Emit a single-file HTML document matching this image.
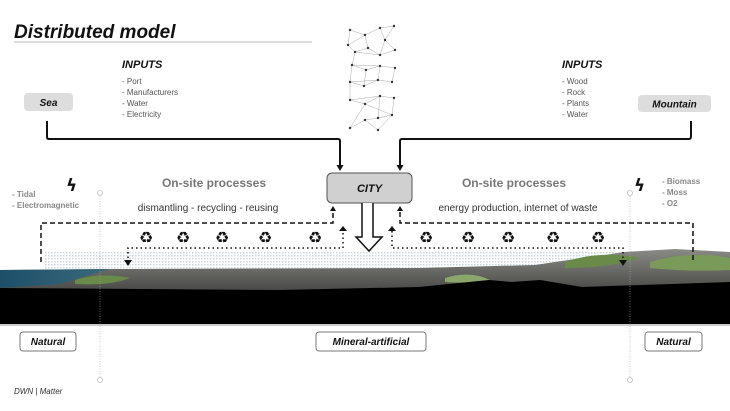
<!DOCTYPE html>
<html><head><meta charset="utf-8"><style>
html,body{margin:0;padding:0;background:#fff;}
svg{display:block;font-family:"Liberation Sans",sans-serif;}
</style></head><body>
<svg width="730" height="411" viewBox="0 0 730 411" xmlns="http://www.w3.org/2000/svg">
<defs>
<pattern id="dots" width="3" height="3" patternUnits="userSpaceOnUse"><rect width="1.5" height="1.5" fill="#c9d6dc"/></pattern>
<linearGradient id="sea" x1="0" x2="1"><stop offset="0" stop-color="#1d4f6a"/><stop offset="1" stop-color="#3a6a7a"/></linearGradient>
<linearGradient id="gnd" x1="0" y1="0" x2="0" y2="1"><stop offset="0" stop-color="#8a8a86"/><stop offset="1" stop-color="#4a4a48"/></linearGradient>
</defs>
<text x="14" y="38" font-size="19" font-weight="bold" font-style="italic" fill="#111">Distributed model</text>
<line x1="14" y1="42" x2="312" y2="42" stroke="#bbb" stroke-width="1"/>
<!-- network -->
<path fill="none" stroke="#aaa" stroke-width="0.5" d="M350,30 L365,35 L380,28 L394,26 L385,40 L395,50 L380,55 L368,48 L355,52 L348,45 L350,30 M365,35 L368,48 M380,28 L385,40 L380,55 M355,52 L352,65 L366,70 L380,66 L395,68 L392,82 L378,80 L364,86 L350,82 L352,65 M366,70 L364,86 M380,66 L378,80 M350,82 L350,100 L365,104 L380,96 L394,98 L392,115 L378,118 L365,120 L350,128 L365,104 M380,96 L378,118 M365,120 L378,130 L392,115 M348,45 L365,35 M355,52 L380,55 M352,65 L380,66 M350,82 L378,80 M350,100 L380,96 M365,104 L392,115"/>
<g fill="#333"><circle cx="350" cy="30" r="1.2"/><circle cx="365" cy="35" r="1.2"/><circle cx="380" cy="28" r="1.2"/><circle cx="394" cy="26" r="1.2"/><circle cx="385" cy="40" r="1.2"/><circle cx="395" cy="50" r="1.2"/><circle cx="380" cy="55" r="1.2"/><circle cx="368" cy="48" r="1.2"/><circle cx="355" cy="52" r="1.2"/><circle cx="348" cy="45" r="1.2"/><circle cx="352" cy="65" r="1.2"/><circle cx="366" cy="70" r="1.2"/><circle cx="380" cy="66" r="1.2"/><circle cx="395" cy="68" r="1.2"/><circle cx="392" cy="82" r="1.2"/><circle cx="378" cy="80" r="1.2"/><circle cx="364" cy="86" r="1.2"/><circle cx="350" cy="82" r="1.2"/><circle cx="350" cy="100" r="1.2"/><circle cx="365" cy="104" r="1.2"/><circle cx="380" cy="96" r="1.2"/><circle cx="394" cy="98" r="1.2"/><circle cx="392" cy="115" r="1.2"/><circle cx="378" cy="118" r="1.2"/><circle cx="365" cy="120" r="1.2"/><circle cx="350" cy="128" r="1.2"/><circle cx="378" cy="130" r="1.2"/></g>
<!-- inputs -->
<text x="122" y="68" font-size="11" font-weight="bold" font-style="italic" fill="#111">INPUTS</text>
<g font-size="8" fill="#555"><text x="122" y="84">- Port</text><text x="122" y="95">- Manufacturers</text><text x="122" y="106">- Water</text><text x="122" y="117">- Electricity</text></g>
<text x="562" y="68" font-size="11" font-weight="bold" font-style="italic" fill="#111">INPUTS</text>
<g font-size="8" fill="#555"><text x="562" y="84">- Wood</text><text x="562" y="95">- Rock</text><text x="562" y="106">- Plants</text><text x="562" y="117">- Water</text></g>
<rect x="24" y="93" width="49" height="18" rx="4" fill="#ddd"/>
<text x="48.5" y="106" font-size="10" font-weight="bold" font-style="italic" text-anchor="middle" fill="#111">Sea</text>
<rect x="638" y="95" width="73" height="17" rx="4" fill="#ddd"/>
<text x="674.5" y="107.5" font-size="10" font-weight="bold" font-style="italic" text-anchor="middle" fill="#111">Mountain</text>
<path d="M47,121 V137 Q47,139 49,139 H338 Q340,139 340,141 V166" fill="none" stroke="#111" stroke-width="2"/>
<path d="M691,121 V136 Q691,139 689,139 H402 Q400,139 400,141 V166" fill="none" stroke="#111" stroke-width="2"/>
<path d="M336.5,165 L340,171 L343.5,165 Z M396.5,165 L400,171 L403.5,165 Z" fill="#111"/>
<!-- city -->
<rect x="327" y="173" width="85" height="30" rx="5" fill="#d0d0d0" stroke="#555" stroke-width="1"/>
<text x="369.5" y="192" font-size="11" font-weight="bold" font-style="italic" text-anchor="middle" fill="#111">CITY</text>
<path d="M362,203 V237 H356 L369,251 L382,237 H373 V203" fill="#fff" stroke="#111" stroke-width="1.5"/>
<!-- side text -->
<text x="66" y="191" font-size="17" font-weight="bold" font-family="DejaVu Sans,sans-serif" fill="#111">ϟ</text>
<text x="634" y="191" font-size="17" font-weight="bold" font-family="DejaVu Sans,sans-serif" fill="#111">ϟ</text>
<g font-size="8" font-weight="bold" fill="#888"><text x="12" y="197">- Tidal</text><text x="12" y="208">- Electromagnetic</text><text x="662" y="184">- Biomass</text><text x="662" y="195">- Moss</text><text x="662" y="206">- O2</text></g>
<text x="214" y="187" font-size="12" font-weight="bold" fill="#777" text-anchor="middle">On-site processes</text>
<text x="208" y="211" font-size="10" fill="#333" text-anchor="middle">dismantling - recycling - reusing</text>
<text x="514" y="187" font-size="12" font-weight="bold" fill="#777" text-anchor="middle">On-site processes</text>
<text x="518" y="211" font-size="10" fill="#333" text-anchor="middle">energy production,  internet of waste</text>
<!-- halftone + terrain -->
<rect x="45" y="252" width="685" height="18" fill="url(#dots)"/>
<path d="M0,270 L116,269 L419,268 L535,265 L582,258 L605,255 L624,252 L675,249 L730,252 L730,290 L0,290 Z" fill="url(#gnd)"/>
<path d="M0,270 L110,269 L60,284 L0,288 Z" fill="url(#sea)"/>
<path d="M75,280 Q100,272 130,278 Q110,286 75,284 Z" fill="#6a8a4a"/>
<path d="M445,278 Q470,270 490,280 Q470,284 445,282 Z" fill="#8aa66a"/>
<path d="M565,262 Q600,250 640,258 Q610,268 565,268 Z" fill="#6a8a4a"/>
<path d="M650,262 Q690,250 730,258 L730,270 Q690,272 650,268 Z" fill="#7a9a5a"/>
<path d="M0,288 L279,290 L419,287 L489,280 L512,282 L540,280 L582,287 L730,282 L730,324 L0,324 Z" fill="#000"/>
<line x1="0" y1="325" x2="730" y2="325" stroke="#999" stroke-width="1"/>
<!-- vertical dotted -->
<line x1="100" y1="196" x2="100" y2="377" stroke="#aaa" stroke-width="0.6" stroke-dasharray="1,1.5"/>
<circle cx="100" cy="193" r="2.5" fill="#fff" stroke="#aaa" stroke-width="0.6"/>
<circle cx="100" cy="380" r="2.5" fill="#fff" stroke="#aaa" stroke-width="0.6"/>
<line x1="630" y1="196" x2="630" y2="377" stroke="#aaa" stroke-width="0.6" stroke-dasharray="1,1.5"/>
<circle cx="630" cy="193" r="2.5" fill="#fff" stroke="#aaa" stroke-width="0.6"/>
<circle cx="630" cy="380" r="2.5" fill="#fff" stroke="#aaa" stroke-width="0.6"/>
<!-- loops -->
<g fill="none" stroke="#111" stroke-width="1.5">
<path d="M41,262 V223 H333 V212" stroke-dasharray="5,3"/>
<path d="M128,258 V248 H343 V231" stroke-dasharray="1.5,3"/>
<path d="M400,212 V223 H693 V262" stroke-dasharray="5,3"/>
<path d="M392,231 V248 H623 V258" stroke-dasharray="1.5,3"/>
</g>
<g fill="#111">
<path d="M330,211 L333,206 L336,211 Z"/><path d="M397,211 L400,206 L403,211 Z"/>
<path d="M339,231 L343,226 L347,231 Z"/><path d="M388,231 L392,226 L396,231 Z"/>
<path d="M124,260 L128,266 L132,260 Z"/><path d="M619,260 L623,266 L627,260 Z"/>
</g>
<g font-size="16" font-weight="bold" fill="#111" text-anchor="middle" font-family="DejaVu Sans,sans-serif">
<text x="146" y="243">♻</text><text x="183" y="243">♻</text><text x="222" y="243">♻</text><text x="265" y="243">♻</text><text x="315" y="243">♻</text>
<text x="426" y="243">♻</text><text x="468" y="243">♻</text><text x="508" y="243">♻</text><text x="553" y="243">♻</text><text x="598" y="243">♻</text>
</g>
<!-- bottom labels -->
<rect x="20" y="332" width="56" height="19" rx="3" fill="#fff" stroke="#777"/>
<text x="48" y="345" font-size="10" font-weight="bold" font-style="italic" text-anchor="middle" fill="#111">Natural</text>
<rect x="316" y="332" width="110" height="19" rx="3" fill="#fff" stroke="#777"/>
<text x="371" y="345" font-size="10" font-weight="bold" font-style="italic" text-anchor="middle" fill="#111">Mineral-artificial</text>
<rect x="645" y="332" width="57" height="19" rx="3" fill="#fff" stroke="#777"/>
<text x="673.5" y="345" font-size="10" font-weight="bold" font-style="italic" text-anchor="middle" fill="#111">Natural</text>
<text x="14" y="394" font-size="8" font-style="italic" fill="#333">DWN | Matter</text>
</svg>
</body></html>
